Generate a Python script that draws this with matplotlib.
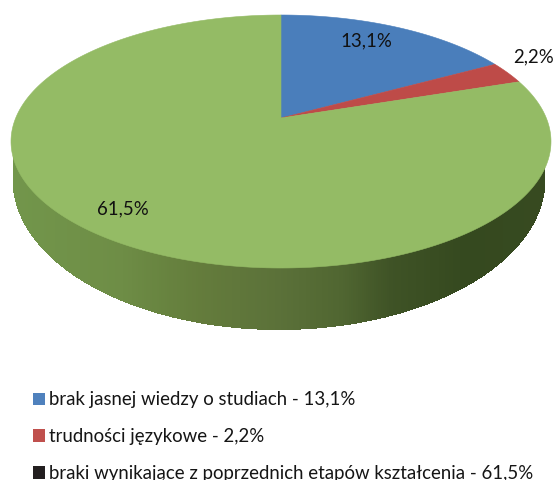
import numpy as np
import matplotlib
matplotlib.use("Agg")
import matplotlib.pyplot as plt
from matplotlib.colors import LinearSegmentedColormap
from matplotlib.patches import Patch

# Data
categories = ["brak jasnej wiedzy o studiach", "trudności językowe",
              "braki wynikające z poprzednich etapów kształcenia"]
values = [13.1, 2.2, 61.5]
value_labels = ["13,1%", "2,2%", "61,5%"]
slice_colors = ["#4a7ebb", "#be4b48", "#94bb65"]
legend_colors = ["#4f81bd", "#c0504d", "#231f20"]

# Layout (pixels)
W, H = 554, 480
apex = (281, 118)
up, down, half_w = 103, 150, 270   # apex-to-rim distances of the top face
wall_c, wall_rx, wall_ry = (279, 180), 266, 150   # lower outline of the side wall
label_pos = [(366, 41), (534, 57), (123, 209)]
side_stops = [(0.0, "#72964b"), (0.2, "#6e8d46"), (0.28, "#688440"), (0.35, "#647c3c"),
              (0.5, "#5b7139"), (0.62, "#506631"), (0.71, "#3f5326"), (0.85, "#35491f"),
              (1.0, "#374a20")]

k = (down - up) / (down + up)
b = up * (1 + k)
a = half_w * np.sqrt(1 - k ** 2)


def project(theta):
    """Clockwise angle from the top of a unit disc to pixels, in perspective."""
    u, v = np.sin(theta), np.cos(theta)
    w = 1 + k * v
    return apex[0] + a * u / w, apex[1] - b * v / w


fig = plt.figure(figsize=(W / 100, H / 100), dpi=100)
ax = fig.add_axes([0, 0, 1, 1])
ax.set_xlim(0, W)
ax.set_ylim(H, 0)
ax.axis("off")

# Side wall: between the front rim of the top face and a deeper lower outline
theta = np.linspace(np.pi * 0.5, np.pi * 1.5, 900)
xr, yr = project(theta)
order = np.argsort(xr)
xr, yr = xr[order], yr[order]
xs = np.linspace(wall_c[0] - wall_rx, wall_c[0] + wall_rx, 534)
top_edge = np.interp(xs, xr, yr) - 1
bottom_edge = wall_c[1] + wall_ry * np.sqrt(np.clip(1 - ((xs - wall_c[0]) / wall_rx) ** 2, 0, 1))
xx = np.vstack([xs, xs])
yy = np.vstack([top_edge, bottom_edge])
cmap = LinearSegmentedColormap.from_list("side", side_stops)
shade = ((xs[:-1] + xs[1:]) / 2 - xs.min()) / (xs.max() - xs.min())
ax.pcolormesh(xx, yy, shade[None, :], cmap=cmap, vmin=0, vmax=1, shading="flat",
              antialiased=False, linewidth=0, edgecolor="none")

# Top face
fractions = np.cumsum([0] + values) / np.sum(values)
for start, stop, color in zip(fractions[:-1], fractions[1:], slice_colors):
    t = np.linspace(start, stop, 300) * 2 * np.pi
    x, y = project(t)
    ax.fill(np.r_[apex[0], x], np.r_[apex[1], y], color=color, lw=0.4, zorder=3)

plt.rcParams["font.family"] = ["Lato", "DejaVu Sans"]
for (x, y), s in zip(label_pos, value_labels):
    ax.text(x, y, s, ha="center", va="center", fontsize=13.4, color="#111111", zorder=4)

handles = [Patch(facecolor=c, edgecolor="none") for c in legend_colors]
labels = [f"{c} - {l}" for c, l in zip(categories, value_labels)]
fig.legend(handles, labels, loc="upper left", bbox_to_anchor=(18 / W, 1 - 376.5 / H),
           frameon=False, fontsize=13.4, labelcolor="#151515", handlelength=0.66,
           handleheight=0.66, handletextpad=0.2, labelspacing=1.06, borderpad=0.3)

fig.savefig("out.png", dpi=100)
